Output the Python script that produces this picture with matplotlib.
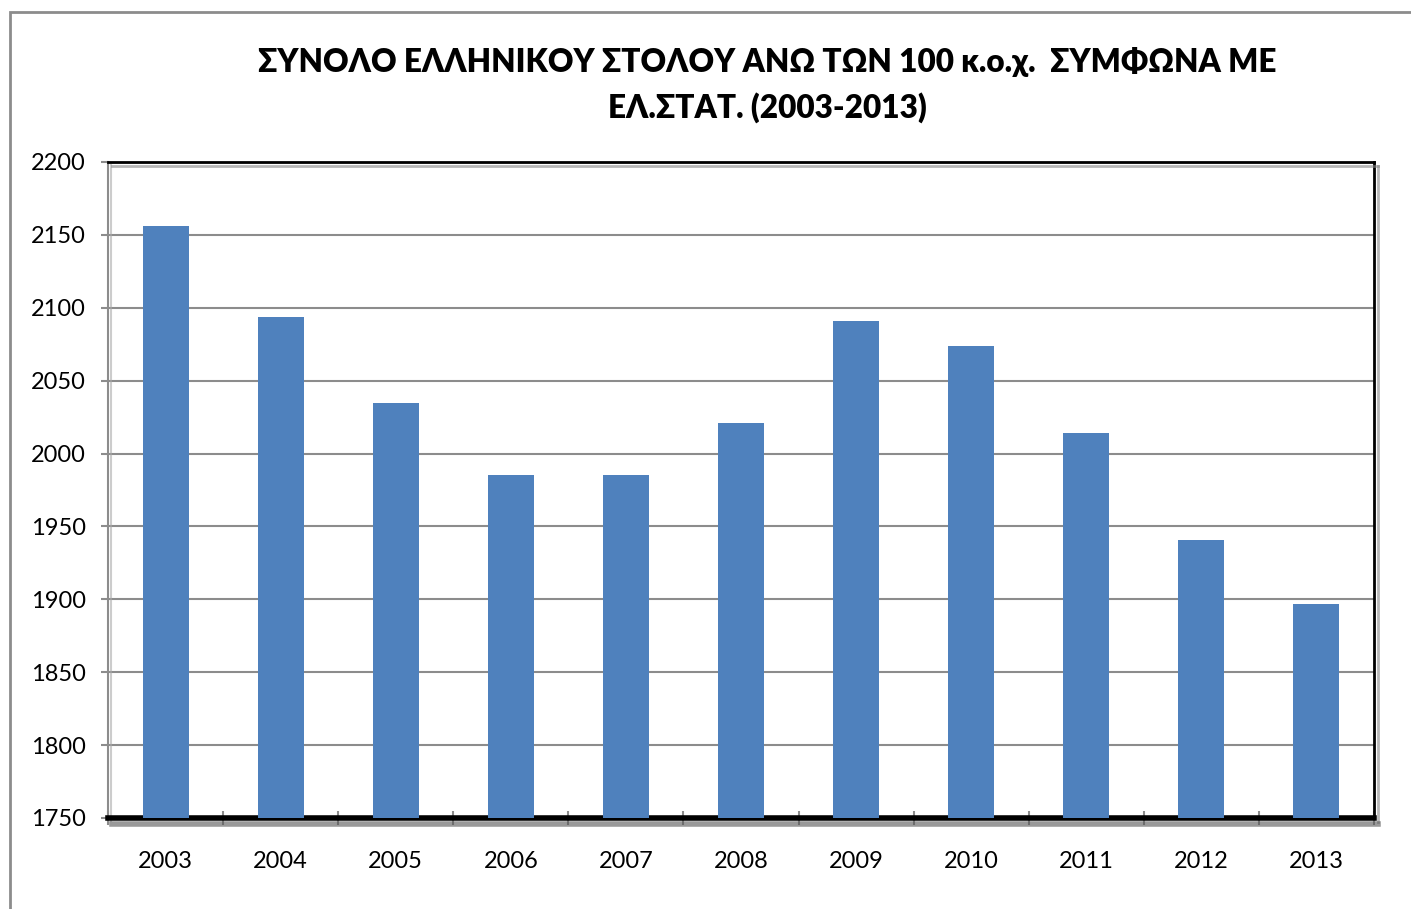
import matplotlib
matplotlib.use("Agg")
import matplotlib.pyplot as plt
import matplotlib.patheffects as pe
from matplotlib.patches import Rectangle
import numpy as np

years = ["2003", "2004", "2005", "2006", "2007", "2008", "2009", "2010", "2011", "2012", "2013"]
values = [2156, 2094, 2035, 1985, 1985, 2021, 2091, 2074, 2014, 1941, 1897]
yticks = [1750, 1800, 1850, 1900, 1950, 2000, 2050, 2100, 2150, 2200]
title = "ΣΥΝΟΛΟ ΕΛΛΗΝΙΚΟΥ ΣΤΟΛΟΥ ΑΝΩ ΤΩΝ 100 κ.ο.χ.  ΣΥΜΦΩΝΑ ΜΕ\nΕΛ.ΣΤΑΤ. (2003-2013)"

plt.rcParams['font.family'] = ['Lato', 'DejaVu Sans']

W, H = 1411, 909
fig = plt.figure(figsize=(W/100, H/100), dpi=100)
fig.patch.set_facecolor('white')

# outer border
fig.patches.append(Rectangle((10/W, -0.05), 1.2, (909-12)/H + 0.05, transform=fig.transFigure,
                             fill=False, edgecolor='#8c8c8c', linewidth=2))

ax = fig.add_axes([108/W, 1-818/H, (1374-108)/W, (818-162)/H])
x = np.arange(len(years))
ax.bar(x, values, width=0.40, color='#4f81bd', zorder=3)
ax.set_xlim(-0.5, len(years)-0.5)
ax.set_ylim(1750, 2200)
ax.set_yticks(yticks)
ax.set_yticklabels([str(v) for v in yticks], fontsize=17)
ax.set_xticks(x)
ax.set_xticklabels(years, fontsize=17)
ax.tick_params(axis='x', length=0, pad=24)
ax.tick_params(axis='y', length=5, color='#8c8c8c', width=1.5, pad=11)
ax.set_xticks(np.arange(-0.5, len(years)), minor=True)
ax.tick_params(axis='x', which='minor', length=10, direction='inout', color='#8c8c8c', width=1.5)
ax.yaxis.grid(True, color='#8c8c8c', linewidth=1.5, zorder=0)
ax.set_axisbelow(True)

ax.spines['left'].set_color('#8c8c8c')
ax.spines['left'].set_linewidth(1.5)
ax.spines['left'].set_path_effects([pe.SimpleLineShadow(offset=(2, -2), shadow_color='#aaaaaa', alpha=0.6), pe.Normal()])
for s in ['top', 'right']:
    ax.spines[s].set_color('black')
    ax.spines[s].set_linewidth(2)
    ax.spines[s].set_path_effects([pe.SimpleLineShadow(offset=(3, -3), shadow_color='#888888', alpha=0.6), pe.Normal()])
ax.spines['bottom'].set_color('black')
ax.spines['bottom'].set_linewidth(4)
ax.spines['bottom'].set_path_effects([pe.SimpleLineShadow(offset=(3, -4), shadow_color='#555555', alpha=0.6), pe.Normal()])

fig.text(767/W, 1-85/H, title, ha='center', va='center', fontsize=22.7, fontweight='heavy',
         linespacing=1.57)

fig.savefig("out.png", dpi=100)
